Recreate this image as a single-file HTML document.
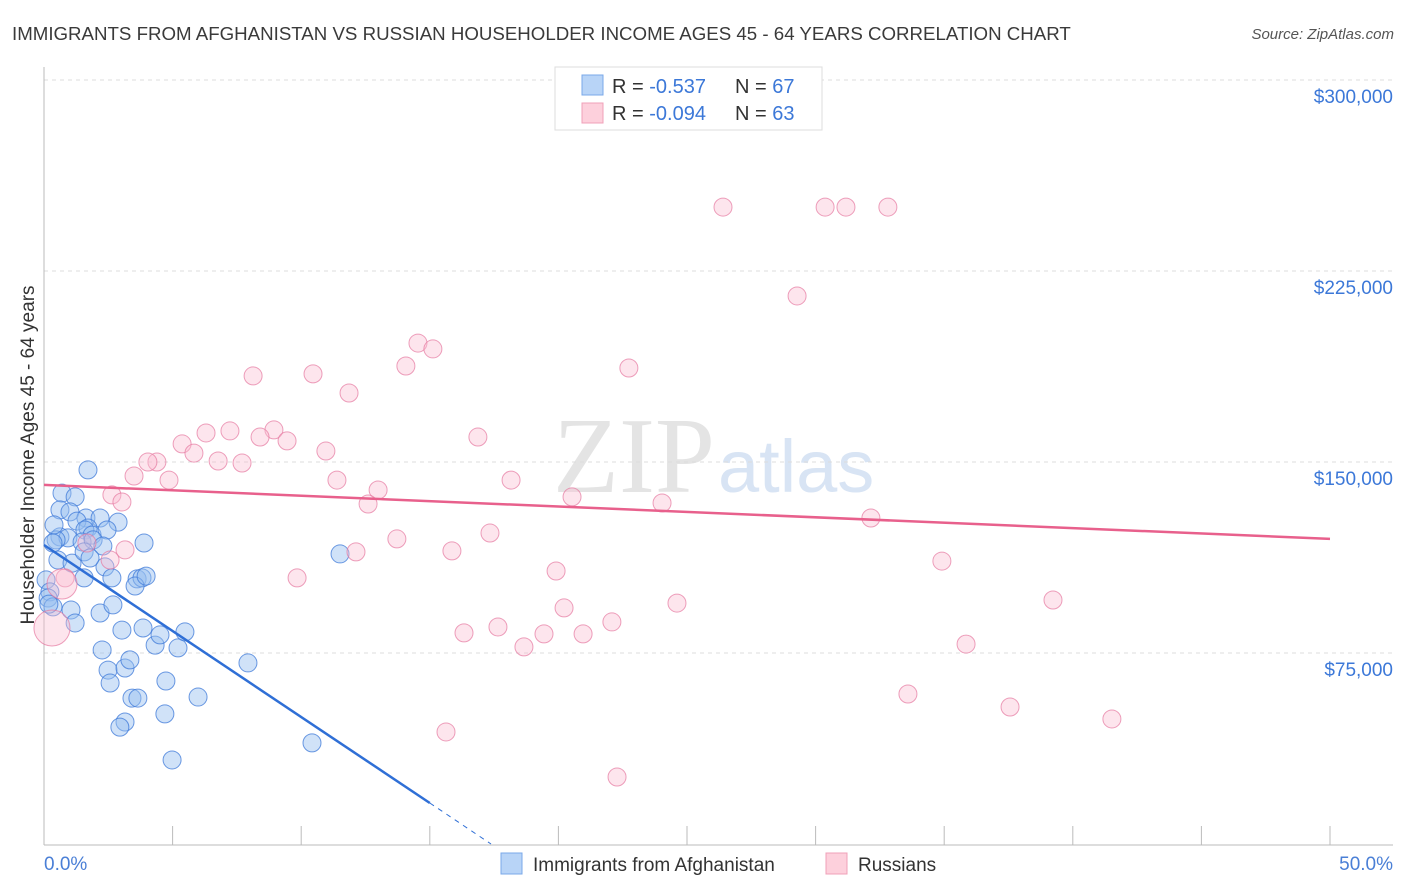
<!DOCTYPE html>
<html><head><meta charset="utf-8">
<style>
body{margin:0;background:#fff;width:1406px;height:892px;overflow:hidden;font-family:"Liberation Sans",sans-serif;}
svg{display:block}
</style></head>
<body>
<svg id="chart" width="1406" height="892">
<text x="12" y="40" font-size="18.7" fill="#3a3a3a">IMMIGRANTS FROM AFGHANISTAN VS RUSSIAN HOUSEHOLDER INCOME AGES 45 - 64 YEARS CORRELATION CHART</text>
<text x="1394" y="39" font-size="15" fill="#555" font-style="italic" text-anchor="end">Source: ZipAtlas.com</text>
<g>
<text x="553" y="492" font-family="Liberation Serif,serif" font-size="108" fill="#e4e4e4">ZIP</text>
<text x="718" y="492" font-size="74" fill="#d8e4f4">atlas</text>
</g>
<g id="grid"></g>
<g id="axes"></g>
<g id="marks"></g>
<text transform="translate(34,455) rotate(-90)" font-size="19" fill="#333" text-anchor="middle">Householder Income Ages 45 - 64 years</text>
<text x="44" y="870" font-size="19" fill="#4a7fd6">0.0%</text>
<text x="1393" y="870" font-size="19" fill="#4a7fd6" text-anchor="end">50.0%</text>
<g>
<rect x="555" y="67" width="267" height="63" fill="#fff" stroke="#ddd"/>
<rect x="582" y="75" width="21" height="20" fill="#b8d4f7" stroke="#7aa8e8"/>
<rect x="582" y="103" width="21" height="20" fill="#fdd0dc" stroke="#f0a0b8"/>
<text x="612" y="93" font-size="20" fill="#333">R = <tspan fill="#3c78d8"> -0.537</tspan><tspan x="735">N = </tspan><tspan fill="#3c78d8">67</tspan></text>
<text x="612" y="120" font-size="20" fill="#333">R = <tspan fill="#3c78d8">-0.094</tspan><tspan x="735">N = </tspan><tspan fill="#3c78d8">63</tspan></text>
</g>
<g>
<rect x="501" y="853" width="21" height="21" fill="#b8d4f7" stroke="#7aa8e8"/>
<text x="533" y="871" font-size="19" fill="#333">Immigrants from Afghanistan</text>
</g>
<g>
<rect x="826" y="853" width="21" height="21" fill="#fdd0dc" stroke="#f0a0b8"/>
<text x="858" y="871" font-size="19" fill="#333">Russians</text>
</g>
</svg>
<script>
const yTicks=[75,150,225,300];
const yTickLabels=["$75,000","$150,000","$225,000","$300,000"];
const xTicks=[0,5,10,15,20,25,30,35,40,45,50];
const blueX=[1.71,0.70,1.21,0.62,1.01,1.63,1.28,2.18,2.88,1.71,1.59,1.87,2.45,0.62,0.93,0.47,0.35,1.48,1.91,2.29,3.89,0.54,1.09,1.56,2.37,2.64,3.62,3.81,1.56,3.54,0.08,0.23,0.16,0.35,1.05,1.21,2.18,2.68,3.03,3.85,4.32,4.51,5.21,5.48,2.26,2.49,3.15,3.34,2.57,4.74,7.93,5.99,3.42,3.65,4.70,3.15,2.95,10.42,4.98,11.51,3.97,0.19,0.39,1.79];
const blueY=[146.9,137.8,136.3,131.2,130.4,128.0,126.8,128.0,126.4,124.1,123.3,121.3,123.3,120.6,120.2,119.4,118.2,118.6,119.4,117.0,118.2,111.5,110.3,114.7,108.8,104.5,104.1,104.5,104.5,101.3,103.7,99.0,96.6,93.1,91.9,86.8,90.7,93.9,84.0,84.8,78.1,82.1,77.0,83.3,76.2,68.3,69.1,72.3,63.2,64.0,71.1,57.7,57.3,57.3,51.1,47.9,45.9,39.7,33.0,113.9,105.2,94.2,125.3,112.3];
const pinkX=[26.40,30.37,31.18,32.81,29.28,14.54,15.12,14.07,22.74,8.13,10.46,11.86,7.23,6.30,8.94,8.40,9.45,16.87,5.37,5.83,10.96,4.39,4.04,6.77,7.70,3.50,4.86,11.39,18.16,12.99,12.60,20.53,24.03,2.64,3.03,32.15,17.34,13.72,1.67,3.15,12.13,15.86,34.91,9.84,19.91,0.82,39.23,20.22,24.61,16.33,17.65,19.44,20.96,22.08,18.66,35.85,33.59,37.56,41.52,15.63,22.28,2.57,0.70,0.31];
const pinkY=[250.1,250.1,250.1,250.1,215.2,196.7,194.4,187.7,186.9,183.8,184.6,177.1,162.2,161.4,162.6,159.8,158.3,159.8,157.1,153.5,154.3,150.0,150.0,150.4,149.6,144.5,142.9,142.9,142.9,139.0,133.5,136.3,133.9,137.1,134.3,128.0,122.1,119.8,118.2,115.5,114.7,115.1,111.1,104.5,107.2,104.5,95.8,92.7,94.6,82.9,85.2,82.5,82.5,87.2,77.4,78.5,58.9,53.8,49.1,44.0,26.3,111.5,102.1,84.8];
const pinkR=pinkX.map((v,i)=>i===62?15:(i===63?18:9));
const blueTrend=[[0,117.4],[15.0,16.1],[17.38,0]];
const pinkTrend=[[0,141.0],[50,119.8]];
const NS="http://www.w3.org/2000/svg";
const xs=p=>44+p*25.72;
const ys=v=>844-v*191/75;
function mk(tag,attrs,parent){const e=document.createElementNS(NS,tag);for(const k in attrs)e.setAttribute(k,attrs[k]);parent.appendChild(e);return e;}
const grid=document.getElementById('grid'),axes=document.getElementById('axes'),marks=document.getElementById('marks');
yTicks.forEach((t,i)=>{
  const l=mk('line',{x1:44,x2:1393,y1:ys(t),y2:ys(t),stroke:'#ddd','stroke-dasharray':'4,4'},grid);
  
  
  const tx=mk('text',{x:1393,y:ys(t)+23,'font-size':19,fill:'#3c78d8','text-anchor':'end'},grid);
  tx.textContent=yTickLabels[i];
  
  
});
const ya=mk('line',{x1:44,x2:44,y1:67,y2:845,stroke:'#bbb'},axes);


const xa=mk('line',{x1:44,x2:1393,y1:845,y2:845,stroke:'#bbb'},axes);


xTicks.forEach(t=>{
  const l=mk('line',{x1:xs(t),x2:xs(t),y1:826,y2:845,stroke:'#bbb'},axes);
  
  
});
blueX.forEach((x,i)=>{
  const c=mk('circle',{cx:xs(x),cy:ys(blueY[i]),r:9,fill:'rgba(150,190,240,0.45)',stroke:'rgba(60,120,216,0.75)','stroke-width':1},marks);
  
  
});
pinkX.forEach((x,i)=>{
  const c=mk('circle',{cx:xs(x),cy:ys(pinkY[i]),r:pinkR[i],fill:'rgba(250,190,210,0.4)',stroke:'rgba(230,120,160,0.7)','stroke-width':1},marks);
  
  
});
const bt=mk('line',{x1:xs(blueTrend[0][0]),y1:ys(blueTrend[0][1]),x2:xs(blueTrend[1][0]),y2:ys(blueTrend[1][1]),stroke:'#2f6fd6','stroke-width':2.5},marks);


const bd=mk('line',{x1:xs(blueTrend[1][0]),y1:ys(blueTrend[1][1]),x2:xs(blueTrend[2][0]),y2:ys(blueTrend[2][1]),stroke:'#2f6fd6','stroke-width':1,'stroke-dasharray':'5,5'},marks);


const pt=mk('line',{x1:xs(pinkTrend[0][0]),y1:ys(pinkTrend[0][1]),x2:xs(pinkTrend[1][0]),y2:ys(pinkTrend[1][1]),stroke:'#e8608c','stroke-width':2.5},marks);


</script>
</body></html>
